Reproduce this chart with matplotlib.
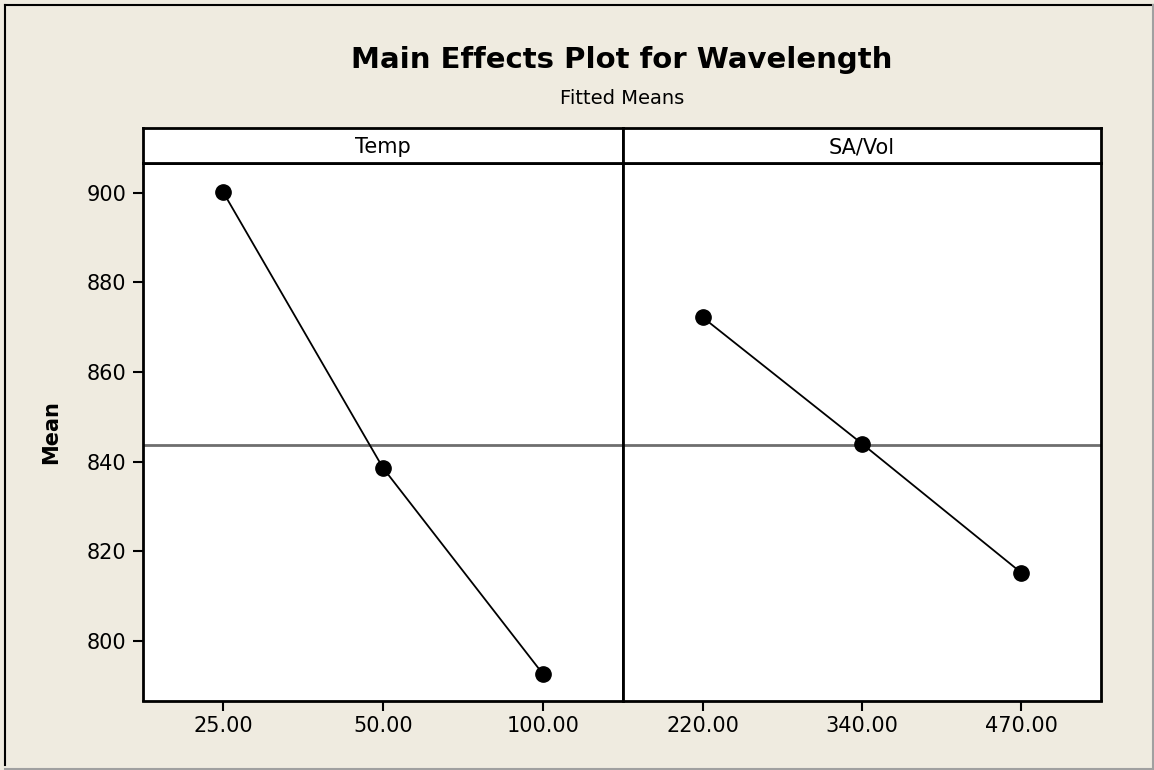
import matplotlib
matplotlib.use("Agg")
import matplotlib.pyplot as plt
from matplotlib.lines import Line2D

# Data (fitted means)
temp_levels = ["25.00", "50.00", "100.00"]
temp_means = [900.2, 838.6, 792.6]

savol_levels = ["220.00", "340.00", "470.00"]
savol_means = [872.2, 844.0, 815.2]

panel_names = ["Temp", "SA/Vol"]
y_ticks = [800, 820, 840, 860, 880, 900]
overall_mean = 843.8

# Figure setup
bg = "#EFEBE0"
W, H = 1154, 770
fig = plt.figure(figsize=(W / 100, H / 100), dpi=100, facecolor=bg)

# Sunken frame around the figure
fig.add_artist(Line2D([5 / W, 5 / W], [5 / H, 1 - 5 / H], color="black", lw=1.5, transform=fig.transFigure))
fig.add_artist(Line2D([5 / W, 1 - 1.5 / W], [1 - 5 / H, 1 - 5 / H], color="black", lw=1.5, transform=fig.transFigure))
fig.add_artist(Line2D([1 - 1.5 / W, 1 - 1.5 / W], [1.5 / H, 1 - 5 / H], color="#A0A0A0", lw=1.5, transform=fig.transFigure))
fig.add_artist(Line2D([5 / W, 1 - 1.5 / W], [1.5 / H, 1.5 / H], color="#A0A0A0", lw=1.5, transform=fig.transFigure))

# Panel geometry (pixels)
left, mid, right = 143, 623, 1101
bottom, top, strip_top = 700.5, 162.7, 128.3

def fx(px):
    return px / W

def fy(py):
    return 1 - py / H

panels = [(temp_levels, temp_means), (savol_levels, savol_means)]
edges = [(left, mid), (mid, right)]

for i, ((levels, means), (x0, x1)) in enumerate(zip(panels, edges)):
    ax = fig.add_axes([fx(x0), fy(bottom), fx(x1 - x0), fy(top) - fy(bottom)])
    ax.set_facecolor("white")
    xs = list(range(len(levels)))
    ax.axhline(overall_mean, color="#6E6E6E", lw=2, zorder=1)
    ax.plot(xs, means, color="black", lw=1.3, marker="o", markersize=11, zorder=3)
    ax.set_xlim(-0.5, 2.5)
    ax.set_ylim(786.7, 906.7)
    ax.set_xticks(xs)
    ax.set_xticklabels(levels, fontsize=15)
    ax.tick_params(axis="x", length=7, width=1.5, pad=4)
    if i == 0:
        ax.set_yticks(y_ticks)
        ax.set_yticklabels([str(v) for v in y_ticks], fontsize=15)
        ax.tick_params(axis="y", length=7, width=1.5, pad=5)
        ax.set_ylabel("Mean", fontsize=15, fontweight="bold", labelpad=18)
    else:
        ax.set_yticks([])
    for s in ax.spines.values():
        s.set_linewidth(2)

    # Header strip
    hx = fig.add_axes([fx(x0), fy(top), fx(x1 - x0), fy(strip_top) - fy(top)])
    hx.set_facecolor("white")
    hx.set_xticks([])
    hx.set_yticks([])
    for s in hx.spines.values():
        s.set_linewidth(2)
    hx.text(0.5, 0.45, panel_names[i], ha="center", va="center", fontsize=15, transform=hx.transAxes)

# Titles
fig.text(fx((left + right) / 2), fy(60), "Main Effects Plot for Wavelength",
         ha="center", va="center", fontsize=21, fontweight="bold")
fig.text(fx((left + right) / 2), fy(98), "Fitted Means", ha="center", va="center", fontsize=14)

fig.savefig("out.png", dpi=100, facecolor=bg)
